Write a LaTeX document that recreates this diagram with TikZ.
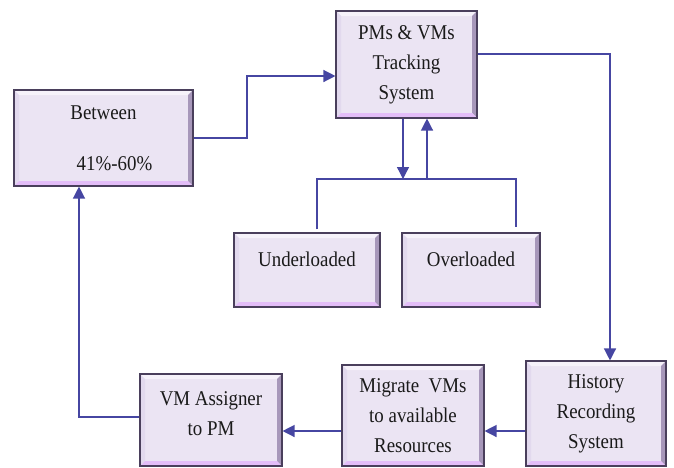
\documentclass[tikz,border=0pt]{standalone}
\usepackage{fontspec}
\setmainfont[FakeStretch=0.9]{Liberation Serif}
\usetikzlibrary{arrows.meta}
\definecolor{boxfill}{HTML}{EBE4F3}
\definecolor{boxedge}{HTML}{4A3F5C}
\definecolor{bevtop}{HTML}{F6F2FA}
\definecolor{bevleft}{HTML}{E2D9EE}
\definecolor{bevright}{HTML}{A797BA}
\definecolor{bevbot}{HTML}{E3BDF8}
\definecolor{linec}{HTML}{4646A2}
\definecolor{txt}{HTML}{1A1A1A}
\newcommand{\bvw}{5pt}
\tikzset{
  boxnode/.style={draw=boxedge, line width=1.1pt, fill=boxfill, text=txt,
    align=center, font=\fontsize{21}{30}\selectfont, inner sep=0pt,
    path picture={
      \path (path picture bounding box.south west) coordinate (ppsw)
            (path picture bounding box.north east) coordinate (ppne)
            (path picture bounding box.south east) coordinate (ppse)
            (path picture bounding box.north west) coordinate (ppnw);
      \fill[bevtop] (ppnw) -- (ppne) -- ([xshift=-\bvw,yshift=-\bvw]ppne) -- ([xshift=\bvw,yshift=-\bvw]ppnw) -- cycle;
      \fill[bevleft] (ppsw) -- (ppnw) -- ([xshift=\bvw,yshift=-\bvw]ppnw) -- ([xshift=\bvw,yshift=\bvw]ppsw) -- cycle;
      \fill[bevright] (ppse) -- (ppne) -- ([xshift=-\bvw,yshift=-\bvw]ppne) -- ([xshift=-\bvw,yshift=\bvw]ppse) -- cycle;
      \fill[bevbot] (ppsw) -- (ppse) -- ([xshift=-\bvw,yshift=\bvw]ppse) -- ([xshift=\bvw,yshift=\bvw]ppsw) -- cycle;
    }},
  conn/.style={draw=linec, line width=1.3pt},
  arr/.style={conn, -{Triangle[length=12pt,width=12pt]}},
}
\begin{document}
\begin{tikzpicture}[x=1pt,y=-1pt]
\useasboundingbox (0,0) rectangle (674,467);
% boxes
\node[boxnode, minimum width=141pt, minimum height=107pt] (track) at (406.5,64.5) {PMs \& VMs\\Tracking\\System};
\node[boxnode, minimum width=179pt, minimum height=96pt] (between) at (103.5,138) {Between\\[21pt]\hspace*{22pt}41\%-60\%};
\node[boxnode, minimum width=146pt, minimum height=74pt, text depth=22pt] (under) at (307,270) {Underloaded};
\node[boxnode, minimum width=138pt, minimum height=74pt, text depth=22pt] (over) at (471,270) {Overloaded};
\node[boxnode, minimum width=140pt, minimum height=105pt] (hist) at (596,413.5) {History\\Recording\\System};
\node[boxnode, minimum width=142pt, minimum height=101pt] (migr) at (413,415.5) {Migrate\ \ VMs\\to available\\Resources};
\node[boxnode, minimum width=142pt, minimum height=92pt, text depth=12pt] (vma) at (211,420) {VM Assigner\\to PM};
% junction coordinates
\coordinate (bus L) at (317,179);
\coordinate (bus R) at (516,179);
\coordinate (jd) at (403,179);
\coordinate (ju) at (427,179);
\coordinate (b1) at (247,138);
\coordinate (b2) at (247,76);
\coordinate (rc) at (610,54);
\coordinate (lc) at (79,417);
% connectors
\draw[arr] (between.east |- b1) -- (b1) -- (b2) -- (track.west |- b2);
\draw[arr] (track.south -| jd) -- (jd);
\draw[arr] (ju) -- (track.south -| ju);
\draw[conn, shorten <=3pt] (under.north -| bus L) -- (bus L) -- (bus R) -- ([yshift=5pt]over.north -| bus R);
\draw[arr] (track.east |- rc) -- (rc) -- (hist.north -| rc);
\draw[arr] (hist.west |- 0,431) -- (migr.east |- 0,431);
\draw[arr] (migr.west |- 0,431) -- (vma.east |- 0,431);
\draw[arr] (vma.west |- lc) -- (lc) -- (between.south -| lc);
\end{tikzpicture}
\end{document}
